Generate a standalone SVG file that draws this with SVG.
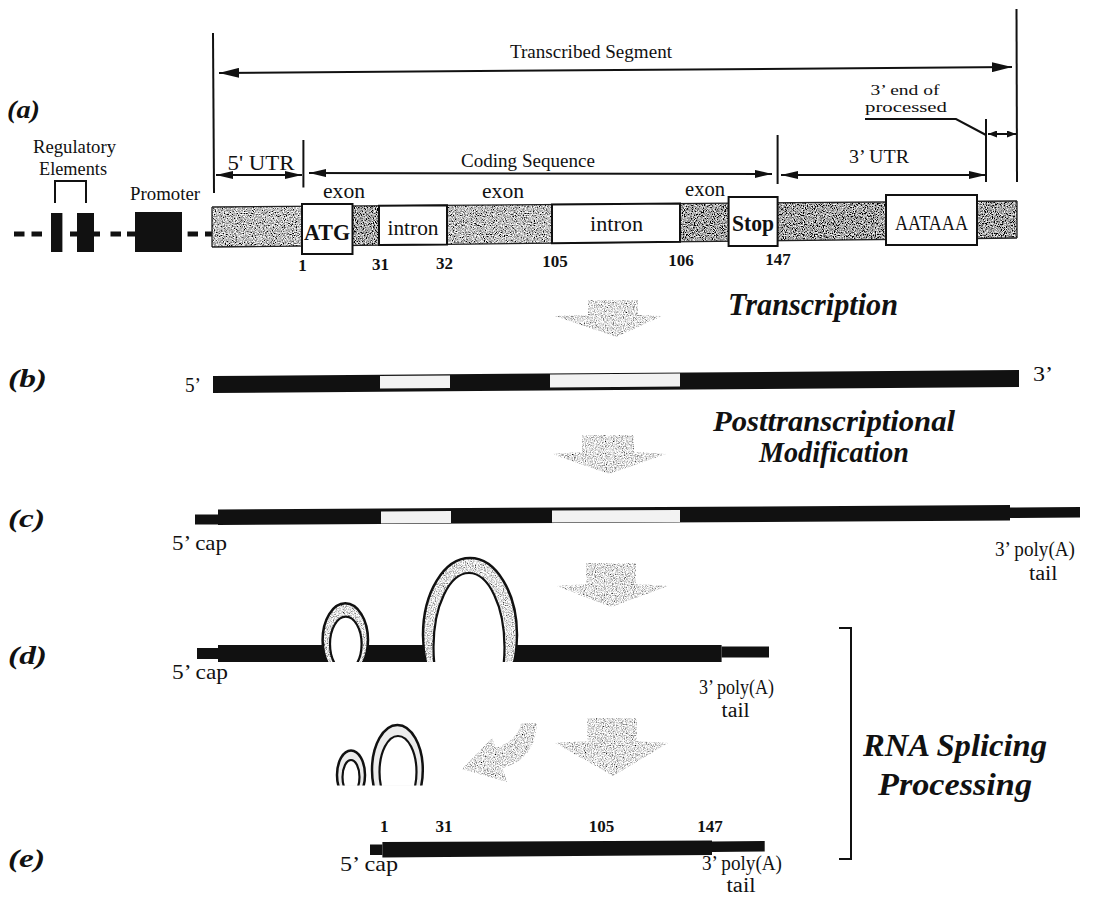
<svg xmlns="http://www.w3.org/2000/svg" width="1099" height="897" viewBox="0 0 1099 897" font-family="'Liberation Serif', 'Times New Roman', serif">
<defs>
<style>
text{font-family:"Liberation Serif","Times New Roman",serif;fill:#111}
.bi{font-weight:bold;font-style:italic}
.b{font-weight:bold}
.m{text-anchor:middle}
.ln{stroke:#111;fill:none;stroke-width:2}
.box{fill:#fff;stroke:#111;stroke-width:2}
.blk{fill:#111}
.wseg{fill:#f2f2f2}
.edge{stroke:#222;stroke-width:1.3;fill:none}
.ring{fill:none;stroke:#111;stroke-width:2.5}
.inner{fill:#fff;stroke:#111;stroke-width:2.2}
</style>
<filter id="gL" x="0" y="0" width="100%" height="100%">
<feTurbulence type="fractalNoise" baseFrequency="0.9" numOctaves="2" seed="4" result="n"/>
<feColorMatrix in="n" type="matrix" values="2.2 0 0 0 -0.35 2.2 0 0 0 -0.35 2.2 0 0 0 -0.35 0 0 0 0 1" result="g"/>
<feComposite in="g" in2="SourceAlpha" operator="in"/>
</filter>
<filter id="gM" x="0" y="0" width="100%" height="100%">
<feTurbulence type="fractalNoise" baseFrequency="0.9" numOctaves="2" seed="7" result="n"/>
<feColorMatrix in="n" type="matrix" values="2.4 0 0 0 -0.68 2.4 0 0 0 -0.68 2.4 0 0 0 -0.68 0 0 0 0 1" result="g"/>
<feComposite in="g" in2="SourceAlpha" operator="in"/>
</filter>
<filter id="gD" x="0" y="0" width="100%" height="100%">
<feTurbulence type="fractalNoise" baseFrequency="0.9" numOctaves="2" seed="9" result="n"/>
<feColorMatrix in="n" type="matrix" values="2.4 0 0 0 -0.82 2.4 0 0 0 -0.82 2.4 0 0 0 -0.82 0 0 0 0 1" result="g"/>
<feComposite in="g" in2="SourceAlpha" operator="in"/>
</filter>
<marker id="ah" viewBox="0 0 20 10" refX="20" refY="5" markerWidth="20" markerHeight="10" markerUnits="userSpaceOnUse" orient="auto-start-reverse"><path d="M0,0 L20,5 L0,10 z" fill="#111"/></marker>
<marker id="am" viewBox="0 0 17 8" refX="17" refY="4" markerWidth="17" markerHeight="8" markerUnits="userSpaceOnUse" orient="auto-start-reverse"><path d="M0,0 L17,4 L0,8 z" fill="#111"/></marker>
<marker id="as" viewBox="0 0 9 7" refX="9" refY="3.5" markerWidth="9" markerHeight="7" markerUnits="userSpaceOnUse" orient="auto-start-reverse"><path d="M0,0 L9,3.5 L0,7 z" fill="#111"/></marker>
<clipPath id="clipD"><rect x="0" y="0" width="1099" height="662"/></clipPath>
<clipPath id="clipE"><rect x="0" y="0" width="1099" height="785.6"/></clipPath>
</defs>
<rect width="1099" height="897" fill="#fff"/>

<g id="row-labels">
<text class="bi" x="7" y="117.5" font-size="25" textLength="33" lengthAdjust="spacingAndGlyphs">(a)</text>
<text class="bi" x="8" y="387" font-size="25" textLength="39" lengthAdjust="spacingAndGlyphs">(b)</text>
<text class="bi" x="8" y="526.5" font-size="25" textLength="37" lengthAdjust="spacingAndGlyphs">(c)</text>
<text class="bi" x="8" y="664" font-size="25" textLength="39" lengthAdjust="spacingAndGlyphs">(d)</text>
<text class="bi" x="8" y="867" font-size="25" textLength="37" lengthAdjust="spacingAndGlyphs">(e)</text>
</g>

<g id="regulatory-elements">
<text class="m" x="74.5" y="153" font-size="19" textLength="83" lengthAdjust="spacingAndGlyphs">Regulatory</text>
<text class="m" x="73" y="175" font-size="19" textLength="68" lengthAdjust="spacingAndGlyphs">Elements</text>
<path class="ln" d="M55,203 V181 H86 V203" stroke-width="1.8"/>
<rect class="blk" x="51" y="213" width="11.4" height="39"/>
<rect class="blk" x="77" y="213" width="17" height="39"/>
</g>
<g id="upstream-line">
<rect class="blk" x="14" y="231.5" width="10.5" height="5"/>
<rect class="blk" x="31.5" y="231.5" width="10.5" height="5"/>
<rect class="blk" x="70" y="231.5" width="7" height="5"/>
<rect class="blk" x="94" y="231.5" width="6" height="5"/>
<rect class="blk" x="110.5" y="231.5" width="10.5" height="5"/>
<rect class="blk" x="127" y="231.5" width="8" height="5"/>
<rect class="blk" x="187.6" y="231.5" width="10.4" height="5"/>
<rect class="blk" x="205" y="231.5" width="7" height="5"/>
</g>
<g id="promoter">
<text class="m" x="165" y="200" font-size="19" textLength="70" lengthAdjust="spacingAndGlyphs">Promoter</text>
<rect class="blk" x="135" y="212" width="47" height="40"/>
</g>
<g id="gene-bar">
<polygon points="212,207 302,206.3 302,246 212,247" filter="url(#gM)"/>
<polygon points="352.5,205.95 379,205.76 379,245.1 352.5,245.4" filter="url(#gD)"/>
<polygon points="447,205.25 552,204.47 552,243.2 447,244.4" filter="url(#gM)"/>
<polygon points="680,203.5 728.6,203.15 728.6,241.2 680,241.8" filter="url(#gD)"/>
<polygon points="777.6,202.8 886,201.98 886,239.5 777.6,240.7" filter="url(#gD)"/>
<polygon points="977,201.3 1017,201 1017,238 977,238.4" filter="url(#gD)"/>
<polyline class="edge" points="212,207 1017,201"/>
<polyline class="edge" points="212,247 1017,238"/>
<line class="edge" x1="212" y1="207" x2="212" y2="247"/>
<line class="edge" x1="1017" y1="201" x2="1017" y2="238"/>
</g>
<g id="atg">
<rect class="box" x="302" y="204" width="50.5" height="50"/>
<text class="b m" x="327" y="240" font-size="24" textLength="46" lengthAdjust="spacingAndGlyphs">ATG</text>
</g>
<g id="intron1">
<polygon class="box" points="379,205.76 447,205.25 447,244.4 379,245.1" stroke-width="1.6"/>
<text class="m" x="413" y="234.5" font-size="21" textLength="51" lengthAdjust="spacingAndGlyphs">intron</text>
</g>
<g id="intron2">
<polygon class="box" points="552,204.47 680,203.5 680,241.8 552,243.2" stroke-width="1.6"/>
<text class="m" x="616.5" y="231" font-size="21" textLength="53" lengthAdjust="spacingAndGlyphs">intron</text>
</g>
<g id="stop">
<rect class="box" x="728.6" y="197" width="49" height="49"/>
<text class="b m" x="753" y="231" font-size="24" textLength="42" lengthAdjust="spacingAndGlyphs">Stop</text>
</g>
<g id="aataaa">
<rect class="box" x="886" y="195" width="91" height="50"/>
<text class="m" x="931.5" y="229.5" font-size="20" textLength="73" lengthAdjust="spacingAndGlyphs">AATAAA</text>
</g>
<g id="exon-labels">
<text class="m" x="344" y="198" font-size="20" textLength="42" lengthAdjust="spacingAndGlyphs">exon</text>
<text class="m" x="503" y="198" font-size="20" textLength="42" lengthAdjust="spacingAndGlyphs">exon</text>
<text class="m" x="705" y="196" font-size="20" textLength="40" lengthAdjust="spacingAndGlyphs">exon</text>
</g>
<g id="positions-a">
<text class="b m" x="302.5" y="270.5" font-size="17">1</text>
<text class="b m" x="380.6" y="269.5" font-size="17">31</text>
<text class="b m" x="444.6" y="268.7" font-size="17">32</text>
<text class="b m" x="555" y="267.3" font-size="17">105</text>
<text class="b m" x="681" y="265.7" font-size="17">106</text>
<text class="b m" x="778" y="264.5" font-size="17">147</text>
</g>
<g id="dimension-labels">
<text class="m" x="591" y="58" font-size="19" textLength="162" lengthAdjust="spacingAndGlyphs">Transcribed Segment</text>
<text class="m" x="261" y="170" font-size="20" textLength="67" lengthAdjust="spacingAndGlyphs">5' UTR</text>
<text class="m" x="528" y="167" font-size="19" textLength="134" lengthAdjust="spacingAndGlyphs">Coding Sequence</text>
<text class="m" x="879" y="163" font-size="19" textLength="60" lengthAdjust="spacingAndGlyphs">3’ UTR</text>
<text class="m" x="905" y="95" font-size="15" textLength="69" lengthAdjust="spacingAndGlyphs">3’ end of</text>
<text class="m" x="906" y="112" font-size="15" textLength="82" lengthAdjust="spacingAndGlyphs">processed</text>
</g>

<g id="connectors">
<line class="ln" x1="213" y1="33" x2="214" y2="193"/>
<line class="ln" x1="303.4" y1="140" x2="303.4" y2="187.5"/>
<line class="ln" x1="777.6" y1="135" x2="777.6" y2="184"/>
<line class="ln" x1="986" y1="119" x2="986" y2="182"/>
<line class="ln" x1="1016.5" y1="9" x2="1017" y2="182"/>
<line class="ln" x1="219" y1="73" x2="1012" y2="67" marker-start="url(#ah)" marker-end="url(#ah)"/>
<line class="ln" x1="216" y1="175" x2="302" y2="175" marker-start="url(#am)" marker-end="url(#am)"/>
<line class="ln" x1="309" y1="173" x2="772" y2="174" marker-start="url(#am)" marker-end="url(#am)"/>
<line class="ln" x1="781" y1="175" x2="986" y2="175" marker-start="url(#am)" marker-end="url(#am)"/>
<line class="ln" x1="988" y1="134" x2="1016" y2="134" stroke-width="1.6" marker-start="url(#as)" marker-end="url(#as)"/>
<polyline class="ln" points="865,119 956,119 986,135" stroke-width="1.5"/>
<polygon points="588,300 638,300 638,315 662,316 616,337 555,316 588,315" filter="url(#gL)"/>
<polygon points="582,435 634,435 634,452 666,454 609,474 552,454 582,452" filter="url(#gL)"/>
<polygon points="586,563 636,563 636,584 668,586 611,607 557,586 586,584" filter="url(#gL)"/>
<polygon points="587,718 637,718 637,741 668,743 613,776 555,743 587,741" filter="url(#gL)"/>
<path d="M462,769 L492,738 L495.5,748 Q518,740 521,723 L537,723 Q535,760 502.2,768 L507,782 Z" filter="url(#gL)"/>
<path class="ln" d="M839,628 H851 V859 H839" stroke-width="1.8"/>
</g>

<g id="step-labels">
<text class="bi" x="728" y="315" font-size="31" textLength="170" lengthAdjust="spacingAndGlyphs">Transcription</text>
<text class="bi" x="713" y="431" font-size="30" textLength="242" lengthAdjust="spacingAndGlyphs">Posttranscriptional</text>
<text class="bi m" x="834" y="462" font-size="30" textLength="150" lengthAdjust="spacingAndGlyphs">Modification</text>
<text class="bi" x="863" y="756" font-size="32" textLength="184" lengthAdjust="spacingAndGlyphs">RNA Splicing</text>
<text class="bi m" x="955" y="795" font-size="32" textLength="154" lengthAdjust="spacingAndGlyphs">Processing</text>
</g>

<g id="transcript-b">
<polygon class="blk" points="213,376 1019,370 1019,387 213,393"/>
<polygon class="wseg" points="380,376 450,375.5 450,388 380,388.5"/>
<polygon class="wseg" points="550,374.5 680,373.5 680,386.5 550,387.5"/>
<text x="185" y="392" font-size="22" textLength="16" lengthAdjust="spacingAndGlyphs">5’</text>
<text x="1033" y="381" font-size="22" textLength="20" lengthAdjust="spacingAndGlyphs">3’</text>
</g>

<g id="transcript-c">
<rect class="blk" x="195" y="514.5" width="23" height="10"/>
<polygon class="blk" points="218,509.5 1010,505 1010,520.5 218,525"/>
<polygon class="blk" points="1010,507.5 1080,507 1080,517.5 1010,518"/>
<polygon class="wseg" points="381,511.5 451,511.1 451,523.1 381,523.5"/>
<polygon class="wseg" points="552,510.6 680,509.9 680,521.9 552,522.6"/>
<text x="172" y="550" font-size="21" textLength="55" lengthAdjust="spacingAndGlyphs">5’ cap</text>
<text class="m" x="1035" y="556" font-size="20" textLength="80" lengthAdjust="spacingAndGlyphs">3’ poly(A)</text>
<text x="1029" y="580" font-size="20" textLength="28.5" lengthAdjust="spacingAndGlyphs">tail</text>
</g>

<g id="transcript-d">
<rect class="blk" x="197" y="648" width="21" height="11"/>
<rect class="blk" x="218" y="645" width="503.6" height="17"/>
<rect class="blk" x="721.6" y="646.5" width="47.4" height="11"/>
<g clip-path="url(#clipD)">
<ellipse cx="345.3" cy="640" rx="22.7" ry="36.7" filter="url(#gL)"/>
<ellipse class="ring" cx="345.3" cy="640" rx="22.7" ry="36.7"/>
<ellipse class="inner" cx="345.8" cy="644" rx="15.8" ry="27.3"/>
<ellipse cx="470" cy="635" rx="47" ry="77" filter="url(#gL)"/>
<ellipse class="ring" cx="470" cy="635" rx="47" ry="77"/>
<ellipse class="inner" cx="469" cy="647" rx="35.5" ry="74"/>
</g>
<text x="172" y="679" font-size="21" textLength="56" lengthAdjust="spacingAndGlyphs">5’ cap</text>
<text x="699" y="694" font-size="20" textLength="75" lengthAdjust="spacingAndGlyphs">3’ poly(A)</text>
<text x="721.6" y="717" font-size="20" textLength="28" lengthAdjust="spacingAndGlyphs">tail</text>
</g>

<g id="lariats" clip-path="url(#clipE)">
<ellipse cx="351" cy="775" rx="14" ry="24.5" fill="#ececec"/>
<ellipse class="ring" cx="351" cy="775" rx="14" ry="24.5" stroke-width="2.2"/>
<ellipse class="inner" cx="351" cy="777" rx="8.5" ry="17" stroke-width="2"/>
<ellipse cx="397.4" cy="770" rx="25.4" ry="45" fill="#ececec"/>
<ellipse class="ring" cx="397.4" cy="770" rx="25.4" ry="45"/>
<ellipse class="inner" cx="398" cy="772" rx="18.5" ry="36"/>
</g>

<g id="mrna-e">
<rect class="blk" x="370" y="844.5" width="12.4" height="10.5"/>
<polygon class="blk" points="382.4,842 712,840.5 712,855 382.4,857.5"/>
<polygon class="blk" points="712,841.5 764.7,841 764.7,851.5 712,852"/>
<text class="b m" x="384.2" y="832" font-size="17">1</text>
<text class="b m" x="444" y="832" font-size="17">31</text>
<text class="b m" x="601.6" y="832" font-size="17">105</text>
<text class="b m" x="710" y="832" font-size="17">147</text>
<text x="340" y="870.5" font-size="21" textLength="58" lengthAdjust="spacingAndGlyphs">5’ cap</text>
<text class="m" x="742" y="870" font-size="20" textLength="80" lengthAdjust="spacingAndGlyphs">3’ poly(A)</text>
<text class="m" x="741" y="892" font-size="20" textLength="29" lengthAdjust="spacingAndGlyphs">tail</text>
</g>
</svg>
